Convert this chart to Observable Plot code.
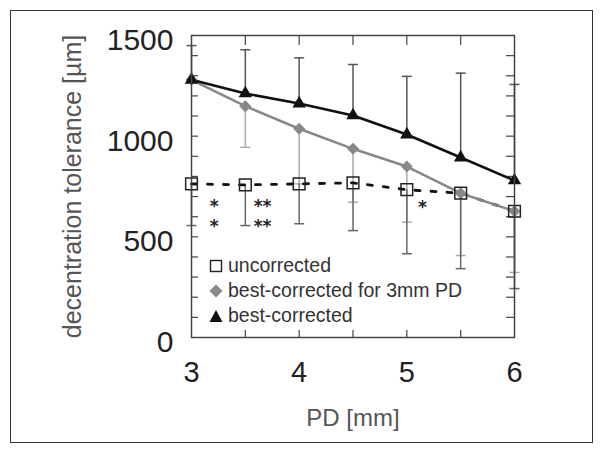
<!DOCTYPE html>
<html>
<head>
<meta charset="utf-8">
<script src="https://cdn.jsdelivr.net/npm/d3@7"></script>
<script src="https://cdn.jsdelivr.net/npm/@observablehq/plot@0.6"></script>
<style>
  html, body { margin: 0; padding: 0; background: #fff; }
  #wrap { position: relative; width: 604px; height: 454px; font-family: "Liberation Sans", Arial, sans-serif; }
  #wrap svg { position: absolute; left: 0; top: 0; }
  #border { position: absolute; left: 10px; top: 10px; width: 583px; height: 433px; box-sizing: border-box; border: 1.5px solid #333; pointer-events: none; }
  #legend { position: absolute; left: 209px; top: 253px; font-size: 19.5px; color: #333; line-height: 25px; }
  #legend .row { display: flex; align-items: center; height: 25px; }
  #legend svg { position: static; margin-right: 5px; }
</style>
</head>
<body>
<div id="wrap"><div id="border"></div></div>
<script>
// --- data ---
const pd = [3, 3.5, 4, 4.5, 5, 5.5, 6];
const uncorrected     = [763, 758, 763, 768, 734, 717, 627];
const uncorrectedLow  = [556, 556, 565, 531, 416, 342, 243];
const best3mm         = [1280, 1149, 1037, 937, 849, 717, 627];
const best3mmLow      = [null, 945, 763, 672, 573, 407, 323];
const best            = [1280, 1212, 1162, 1103, 1008, 894, 780];
const bestHigh        = [1450, 1429, 1389, 1356, 1297, 1313, 1257];

const seriesNames = ["uncorrected", "best-corrected for 3mm PD", "best-corrected"];

const xTickLabels = [3, 4, 5, 6];
const yTickLabels = [0, 500, 1000, 1500];
const xMinorTicks = [3.5, 4, 4.5, 5, 5.5];
const yMinorTicks = [100, 200, 300, 400, 500, 600, 700, 800, 900, 1000, 1100, 1200, 1300, 1400];

const starText = ["*", "*", "**", "**", "*"];
const starX    = [3.21, 3.21, 3.66, 3.66, 5.145];
const starY    = [671, 571, 671, 571, 665];

// --- tables ---
const rowsU = pd.map((x, i) => ({x, v: uncorrected[i], e: uncorrectedLow[i]}));
const rowsD = pd.map((x, i) => ({x, v: best3mm[i], e: best3mmLow[i]}));
const rowsT = pd.map((x, i) => ({x, v: best[i], e: bestHigh[i]}));
const stars = starText.map((t, i) => ({t, x: starX[i], y: starY[i]}));

const cap = {draw(context, size) { const w = Math.sqrt(size / Math.PI); context.moveTo(-w, 0); context.lineTo(w, 0); }};

function bars(rows, color) {
  const r = rows.filter(d => d.e != null);
  return [
    Plot.ruleX(r, {x: "x", y1: "v", y2: "e", stroke: color, strokeWidth: 1.5}),
    Plot.dot(r, {x: "x", y: "e", symbol: cap, r: 5, fill: "none", stroke: color, strokeWidth: 1.5})
  ];
}

const chart = Plot.plot({
  width: 604, height: 454,
  marginLeft: 191, marginRight: 90, marginTop: 35, marginBottom: 117,
  x: {domain: [3, 6]},
  y: {domain: [0, 1500]},
  style: {fontFamily: "'Liberation Sans', Arial, sans-serif", background: "transparent", overflow: "visible"},
  marks: [
    Plot.tickX(xMinorTicks, {x: d => d, insetTop: 295, stroke: "#444", strokeWidth: 1.2}),
    Plot.tickX(xMinorTicks, {x: d => d, insetBottom: 292, stroke: "#444", strokeWidth: 1.2}),
    Plot.tickY(yMinorTicks, {y: d => d, insetRight: 316, stroke: "#444", strokeWidth: 1.2}),
    Plot.tickY(yMinorTicks, {y: d => d, insetLeft: 315, stroke: "#444", strokeWidth: 1.2}),
    ...bars(rowsD, "#aaa"),
    ...bars(rowsU, "#666"),
    ...bars(rowsT, "#555"),
    Plot.line(rowsU, {x: "x", y: "v", stroke: "#111", strokeWidth: 2.8, strokeDasharray: "5,11"}),
    Plot.line(rowsD, {x: "x", y: "v", stroke: "#888", strokeWidth: 2.6}),
    Plot.line(rowsT, {x: "x", y: "v", stroke: "#111", strokeWidth: 2.6}),
    Plot.dot(rowsD, {x: "x", y: "v", symbol: "diamond2", r: 5.4, fill: "#888", stroke: "none"}),
    Plot.dot(rowsU, {x: "x", y: "v", symbol: "square", r: 6.6, fill: "none", stroke: "#222", strokeWidth: 1.5}),
    Plot.dot(rowsT, {x: "x", y: "v", symbol: "triangle", r: 5, fill: "#111", stroke: "none"}),
    Plot.text(stars, {x: "x", y: "y", text: "t", fontFamily: "'DejaVu Sans', sans-serif", fontSize: 17, fontWeight: "bold", fill: "#222", dy: 4}),
    Plot.frame({stroke: "#444", strokeWidth: 1.5}),
    Plot.axisX(xTickLabels, {tickSize: 0, tickPadding: 24, fontSize: 29, fill: "#222", label: null, tickFormat: d => String(d)}),
    Plot.axisY(yTickLabels, {tickSize: 0, tickPadding: 18, fontSize: 30, fill: "#222", label: null, dy: 5, tickFormat: d => String(d)}),
    Plot.text(["decentration tolerance [µm]"], {frameAnchor: "left", textAnchor: "middle", lineAnchor: "middle", rotate: -90, dx: -119, fontSize: 25, fill: "#555"}),
    Plot.text(["PD [mm]"], {frameAnchor: "bottom", textAnchor: "middle", lineAnchor: "middle", dy: 81, fontSize: 24, fill: "#555"})
  ]
});
document.getElementById("wrap").prepend(chart);

// legend
const icons = [
  '<svg width="14" height="14"><rect x="1.5" y="1.5" width="11" height="11" fill="none" stroke="#222" stroke-width="1.4"/></svg>',
  '<svg width="14" height="14"><path d="M7,0.5L13.5,7L7,13.5L0.5,7Z" fill="#888"/></svg>',
  '<svg width="14" height="14"><path d="M7,1L13.5,13L0.5,13Z" fill="#111"/></svg>'
];
const legend = document.createElement("div");
legend.id = "legend";
legend.innerHTML = seriesNames.map((n, i) => `<div class="row">${icons[i]}<span>${n}</span></div>`).join("");
document.getElementById("wrap").appendChild(legend);
</script>
</body>
</html>
